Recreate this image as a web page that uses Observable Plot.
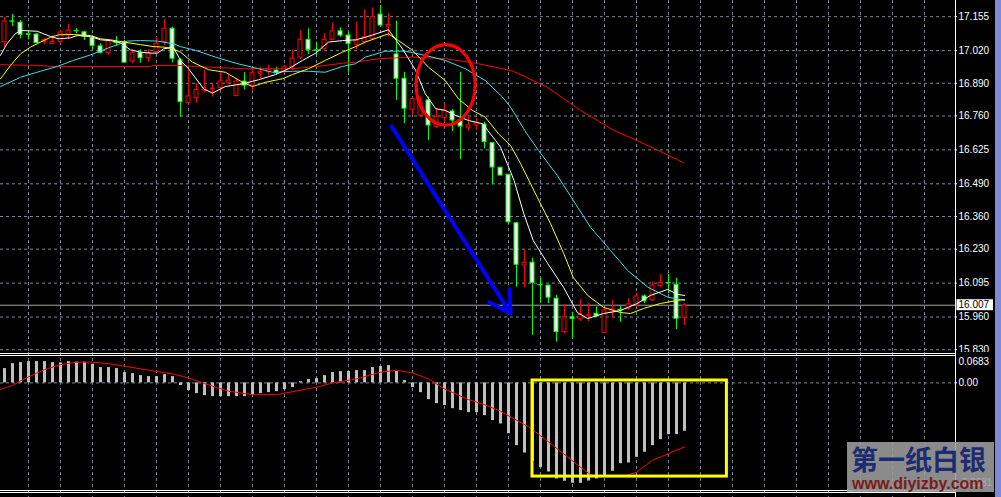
<!DOCTYPE html>
<html><head><meta charset="utf-8">
<script src="https://cdn.jsdelivr.net/npm/d3@7"></script>
<script src="https://cdn.jsdelivr.net/npm/@observablehq/plot@0.6"></script>
<style>
html,body{margin:0;padding:0;background:#000;}
#wrap{position:relative;width:1001px;height:497px;background:#000;overflow:hidden;}
#wrap svg{position:absolute;left:0;}
#strip{position:absolute;left:995px;top:0;width:6px;height:497px;background:#7d8ad8;}
#wm{position:absolute;left:847px;top:442px;width:147px;height:50px;background:rgba(158,158,158,0.88);}
#wm .cn{position:absolute;left:4px;top:3px;font-weight:bold;font-size:27px;font-family:"Noto Sans CJK SC",sans-serif;color:#1d2b70;line-height:28px;height:28px;white-space:nowrap;}
#wm .url{position:absolute;left:5px;top:34px;font-weight:bold;font-size:16px;font-family:"Liberation Sans",Arial,sans-serif;color:#7a1b1b;line-height:15px;height:15px;white-space:nowrap;}
</style></head>
<body><div id="wrap"><div id="strip"></div></div>
<script>
// ---------- data ----------
const open = [
17.054,17.136,17.131,17.085,17.084,17.056,17.046,17.054,17.084,17.098,
17.093,17.071,17.037,17.010,17.052,17.054,16.977,17.011,16.990,17.014,
17.054,17.107,16.981,16.811,16.831,16.861,16.867,16.871,16.890,16.839,
16.897,16.881,16.928,16.934,16.941,16.934,16.954,16.992,17.063,17.021,
17.027,17.063,17.097,17.080,17.044,17.054,17.067,17.163,17.116,17.005,
16.908,16.785,16.762,16.822,16.715,16.753,16.778,16.742,16.713,16.722,
16.726,16.652,16.554,16.526,16.333,16.165,16.176,16.087,16.085,16.033,
15.900,15.959,15.951,15.965,15.973,15.896,15.977,15.989,15.993,16.006,
16.042,16.026,16.083,16.095,16.088,15.957];
const high = [
17.153,17.164,17.140,17.097,17.089,17.070,17.080,17.100,17.124,17.107,
17.097,17.080,17.047,17.063,17.076,17.060,17.023,17.023,17.023,17.073,
17.143,17.113,16.989,16.941,16.888,16.941,16.888,16.934,16.921,16.908,
16.932,16.948,16.954,16.961,16.954,16.961,17.023,17.100,17.107,17.054,
17.087,17.129,17.111,17.093,17.133,17.182,17.190,17.200,17.167,17.137,
16.934,16.829,16.835,16.835,16.789,16.808,16.785,16.934,16.755,16.749,
16.735,16.654,16.555,16.527,16.336,16.225,16.194,16.118,16.087,16.046,
16.010,15.979,16.029,16.013,16.000,15.993,16.026,16.002,16.033,16.055,
16.048,16.099,16.129,16.129,16.114,16.013];
const low = [
17.033,17.116,17.067,17.063,17.047,17.043,17.045,17.047,17.063,17.087,
17.060,17.021,17.007,17.001,17.037,16.971,16.968,16.970,16.974,17.007,
17.040,16.972,16.754,16.808,16.811,16.851,16.835,16.859,16.888,16.838,
16.864,16.859,16.908,16.921,16.925,16.930,16.941,16.984,17.005,17.001,
17.023,17.060,17.073,16.934,17.023,17.047,17.063,17.113,17.073,16.822,
16.729,16.762,16.755,16.662,16.709,16.735,16.698,16.586,16.699,16.702,
16.629,16.486,16.521,16.331,16.079,16.076,15.887,16.015,16.013,15.860,
15.893,15.873,15.943,15.942,15.959,15.895,15.957,15.939,15.986,16.000,
16.013,16.023,16.076,16.052,15.910,15.926];
const close = [
17.136,17.135,17.083,17.083,17.050,17.062,17.055,17.092,17.100,17.097,
17.076,17.039,17.011,17.058,17.050,16.972,17.011,16.990,17.011,17.047,
17.107,16.988,16.815,16.838,16.864,16.871,16.869,16.897,16.901,16.897,
16.881,16.930,16.934,16.944,16.930,16.954,16.988,17.063,17.023,17.020,
17.063,17.097,17.080,17.047,17.058,17.073,17.153,17.120,17.122,16.908,
16.789,16.828,16.815,16.722,16.755,16.782,16.742,16.718,16.722,16.731,
16.656,16.555,16.523,16.337,16.168,16.176,16.096,16.086,16.037,15.900,
15.959,15.953,15.969,15.967,15.963,15.986,15.990,15.987,16.010,16.042,
16.023,16.085,16.096,16.094,15.953,16.006];

const maWhiteIdx = [-0.5,0.3,1.4,2.2,4.1,5.75,6.8,8.25,9.1,10.75,12,13.25,14.5,15.75,17,18.25,19.1,19.9,21.1,22,23,24.9,26,27.6,29.75,31.75,33.9,35.5,37.25,38.9,40.5,42.25,43.9,45.1,48,49.75,51.4,52.6,53.9,55.1,56.4,58,59.75,61.4,62,63.7,64.9,66.1,67.9,69.9,71.6,72.9,74.9,77,79.1,80.75,82.9,84.1,85];
const maWhiteVal = [17.001,17.047,17.089,17.100,17.097,17.076,17.067,17.071,17.080,17.076,17.063,17.060,17.051,17.023,17.014,17.010,17.010,17.027,17.034,16.981,16.948,16.868,16.851,16.877,16.888,16.904,16.925,16.948,16.981,17.010,17.054,17.060,17.063,17.073,17.103,17.027,16.941,16.848,16.789,16.782,16.762,16.742,16.729,16.662,16.636,16.503,16.372,16.264,16.173,16.077,15.978,15.954,15.974,15.986,16.014,16.046,16.070,16.050,16.046];

const maYellowIdx = [-0.5,0.75,2,3.25,4.5,5.75,6.8,8.6,10.75,12,13.25,14.9,17,18.6,19.9,21.1,22,23.5,25.5,27.6,29.75,31,32.6,34.75,36,38,40.1,42.25,43.9,45.1,48,49.25,51,53,55.1,56.75,58.5,60.1,61.75,63.25,64.5,66.6,68.25,69.9,71.1,72.9,74.9,77,78.25,79.9,82,84.1,85];
const maYellowVal = [16.908,16.961,17.007,17.034,17.054,17.073,17.083,17.084,17.080,17.067,17.063,17.054,17.044,17.036,17.034,17.027,17.014,16.974,16.944,16.934,16.894,16.877,16.894,16.908,16.925,16.948,16.981,17.014,17.036,17.054,17.087,17.060,17.021,16.954,16.901,16.828,16.782,16.755,16.689,16.643,16.571,16.436,16.332,16.213,16.117,16.046,15.998,15.978,15.974,15.994,16.014,16.026,16.030];

const maCyanIdx = [-0.5,2,4.5,6.6,8.6,10.75,13.25,15.4,17,19.1,21.1,22,23.9,26.4,28.9,31.75,33.5,36,38,40.1,42.25,43.9,45.1,47.6,50.1,52.6,55.1,57.6,60.1,62.25,63.25,65.3,66.75,69.1,71.1,73.25,75.75,77.9,80.4,82.9,85];
const maCyanVal = [16.877,16.914,16.938,16.957,16.981,17.003,17.034,17.058,17.060,17.058,17.047,17.036,17.021,16.994,16.970,16.948,16.934,16.938,16.938,16.934,16.957,16.968,16.994,17.018,17.018,17.001,16.981,16.948,16.901,16.835,16.795,16.689,16.623,16.523,16.424,16.317,16.225,16.145,16.079,16.039,16.026];

const maRedIdx = [-0.5,4.5,5.75,18.25,18.6,22,25.5,29.75,36,38,40.1,42.25,43.9,46.75,51,55.1,59.25,63.5,67.8,72,76.2,79.1,84.9];
const maRedVal = [16.964,16.961,16.957,16.957,16.961,16.961,16.954,16.948,16.948,16.954,16.961,16.970,16.974,16.988,16.994,16.988,16.968,16.939,16.875,16.782,16.702,16.662,16.574];

const macdHist = [
0.0357,0.0481,0.0506,0.0531,0.0531,0.0531,0.0506,0.0499,0.0531,0.0516,
0.0516,0.0466,0.0382,0.0382,0.0357,0.0257,0.0232,0.0182,0.0157,0.0157,
0.0207,0.0157,-0.0067,-0.0192,-0.0267,-0.0317,-0.0342,-0.0342,-0.0342,-0.0342,
-0.0342,-0.0292,-0.0267,-0.0242,-0.0217,-0.0167,-0.0117,0.0032,0.0082,0.0107,
0.0182,0.0257,0.0282,0.0282,0.0307,0.0307,0.0382,0.0407,0.0431,0.0282,
0.0057,-0.0117,-0.0242,-0.0417,-0.0516,-0.0566,-0.0641,-0.0691,-0.0741,-0.0741,
-0.0816,-0.0940,-0.1023,-0.1264,-0.1564,-0.1746,-0.1953,-0.2112,-0.2220,-0.2394,
-0.2452,-0.2501,-0.2501,-0.2444,-0.2394,-0.2327,-0.2202,-0.2013,-0.1995,-0.1853,
-0.1728,-0.1564,-0.1414,-0.1289,-0.1289,-0.1205];
const sigIdx = [-0.5,0,1,2,3,5,7,9,11,13,15,18,21,23,25,28,31,34,37,39,41,44,47,49,51,53,55,58,60,62,65.75,68.7,71.6,73.25,74.5,77.4,79,81,85];
const sigVal = [-0.0167,-0.0125,-0.0062,0.005,0.015,0.0332,0.0456,0.0516,0.0516,0.0481,0.0416,0.0317,0.0224,0.0125,-0.0017,-0.0207,-0.0292,-0.0292,-0.0182,-0.0107,0,0.01,0.0267,0.0317,0.0249,0.01,-0.015,-0.0416,-0.0541,-0.0706,-0.1122,-0.1579,-0.2038,-0.2287,-0.2327,-0.2327,-0.2227,-0.1928,-0.1596];

const priceTickLabels = ["17.155","17.020","16.890","16.760","16.625","16.490","16.360","16.230","16.095","15.960","15.830"];
const macdTickLabels = ["0.0683","0.00","-0.2681"];
const currentPrice = [16.007];

// annotations (in data units)
const arrowPts = {x1: 48.4, y1: 16.718, x2: 63.25, y2: 15.974};
const ellipseCenter = [55.2, 16.882];
const ellipseRadius = [3.69, 0.160];
const yellowBox = {x1: 66.0, x2: 90.3, y1: -0.2334, y2: 0.006};

// ---------- build ----------
const candles = open.map((o, i) => ({i, o, h: high[i], l: low[i], c: close[i], up: close[i] >= o}));
const upC = candles.filter(d => d.up), dnC = candles.filter(d => !d.up);
const toLine = (idx, val) => idx.map((x, k) => ({x, y: val[k]}));
const hist = macdHist.map((v, i) => ({i, v}));

const X_DOMAIN = [-0.5, 118.875];
const Y_DOMAIN = [15.830, 17.155], Y_RANGE = [349.2, 16.2];
const PX_X = (X_DOMAIN[1] - X_DOMAIN[0]) / 955;                       // one pixel in x units
const PX_Y = (Y_DOMAIN[1] - Y_DOMAIN[0]) / (Y_RANGE[0] - Y_RANGE[1]); // one pixel in price units
const gridIdx = d3.range(3, 119, 4);
const GRID = "#778899";
const FONT = '"Liberation Sans", Arial, sans-serif';
const RED = "#ff0000", LIME = "#00ff00";
const wrap = document.getElementById("wrap");

function ellipseMark(index, scales) {
  const sx = scales && scales.x, sy = scales && scales.y;
  if (typeof sx !== "function" || typeof sy !== "function") return null;
  const cx = sx(ellipseCenter[0]), cy = sy(ellipseCenter[1]);
  const rx = Math.abs(sx(ellipseCenter[0] + ellipseRadius[0]) - cx);
  const ry = Math.abs(sy(ellipseCenter[1] - ellipseRadius[1]) - cy);
  return d3.create("svg:ellipse").attr("cx", cx).attr("cy", cy).attr("rx", rx).attr("ry", ry)
    .attr("fill", "none").attr("stroke", RED).attr("stroke-width", 3.2).node();
}

function mainPlot(extra) {
  return Plot.plot({
    width: 1001, height: 352, marginTop: 0, marginBottom: 0, marginLeft: 0, marginRight: 46,
    style: {background: "#000", fontFamily: FONT, fontSize: "10px", overflow: "visible"},
    x: {domain: X_DOMAIN, axis: null},
    y: {domain: Y_DOMAIN, range: Y_RANGE, axis: null},
    marks: [
      Plot.ruleX(gridIdx, {stroke: GRID, strokeDasharray: "3,3"}),
      Plot.ruleY(priceTickLabels.map(Number), {stroke: GRID, strokeDasharray: "3,3"}),
      Plot.ruleY(currentPrice, {stroke: "#a8a8a8"}),
      Plot.ruleX(upC, {x: "i", y1: "l", y2: "h", stroke: RED}),
      Plot.ruleX(dnC, {x: "i", y1: "l", y2: "h", stroke: LIME}),
      Plot.rect(upC, {x1: d => d.i - 0.25, x2: d => d.i + 0.25, y1: "o", y2: "c", fill: "#000", stroke: RED}),
      Plot.rect(dnC, {x1: d => d.i - 0.25, x2: d => d.i + 0.25, y1: "o", y2: "c", fill: "#fff", stroke: LIME}),
      Plot.line(toLine(maRedIdx, maRedVal), {x: "x", y: "y", stroke: "#ff0000", strokeWidth: 1}),
      Plot.line(toLine(maCyanIdx, maCyanVal), {x: "x", y: "y", stroke: "#3fdcea", strokeWidth: 1}),
      Plot.line(toLine(maYellowIdx, maYellowVal), {x: "x", y: "y", stroke: "#ffff00", strokeWidth: 1}),
      Plot.line(toLine(maWhiteIdx, maWhiteVal), {x: "x", y: "y", stroke: "#ffffff", strokeWidth: 1}),
      Plot.arrow([arrowPts], {x1: "x1", y1: "y1", x2: "x2", y2: "y2", stroke: "#0000ff", strokeWidth: 4, headLength: 9}),
      Plot.ruleX([X_DOMAIN[1]], {stroke: "#fff"}),
      Plot.ruleY(priceTickLabels.map(Number), {x1: X_DOMAIN[1], x2: X_DOMAIN[1] + 2 * PX_X, stroke: "#fff"}),
      Plot.text(priceTickLabels, {y: d => +d, text: d => d, frameAnchor: "right", textAnchor: "start", dx: 3, fill: "#fff", fontSize: 10}),
      // current price tag: white box with black text, sized in pixels
      Plot.rect(currentPrice, {x1: X_DOMAIN[1] + 1.5 * PX_X, x2: X_DOMAIN[1] + 38 * PX_X,
        y1: d => d - 5.5 * PX_Y, y2: d => d + 5.5 * PX_Y, fill: "#fff"}),
      Plot.text(currentPrice, {y: d => d, text: d => d.toFixed(3), frameAnchor: "right", textAnchor: "start", dx: 3, fill: "#000", fontSize: 10}),
      ...extra
    ]
  });
}
let main;
try { main = mainPlot([ellipseMark]); } catch (e) { main = mainPlot([]); }
main.style.top = "0px";
wrap.appendChild(main);

const macd = Plot.plot({
  width: 1001, height: 145, marginTop: 0, marginBottom: 0, marginLeft: 0, marginRight: 46,
  style: {background: "#000", fontFamily: FONT, fontSize: "10px", overflow: "visible"},
  x: {domain: X_DOMAIN, axis: null},
  y: {domain: [-0.2681, 0.0683], range: [138, 3], axis: null},
  marks: [
    Plot.ruleX(gridIdx, {stroke: GRID, strokeDasharray: "3,3"}),
    Plot.ruleY([0], {stroke: GRID, strokeDasharray: "3,3"}),
    Plot.ruleX(hist, {x: "i", y1: 0, y2: "v", stroke: "#c0c0c0", strokeWidth: 3}),
    Plot.line(toLine(sigIdx, sigVal), {x: "x", y: "y", stroke: "#ff0000", strokeWidth: 1}),
    Plot.rect([yellowBox], {x1: "x1", x2: "x2", y1: "y1", y2: "y2", fill: "none", stroke: "#ffff00", strokeWidth: 3}),
    Plot.ruleY([0.0683], {stroke: "#fff", dy: -2}),
    Plot.ruleY([0.0683], {stroke: "#fff"}),
    Plot.ruleY([-0.2681], {stroke: "#fff"}),
    Plot.ruleY([-0.2681], {stroke: "#fff", dy: 2}),
    Plot.ruleX([X_DOMAIN[1]], {stroke: "#fff"}),
    Plot.ruleY([0], {x1: X_DOMAIN[1], x2: X_DOMAIN[1] + 2 * PX_X, stroke: "#fff"}),
    Plot.text([macdTickLabels[0]], {y: 0.0683, text: d => d, frameAnchor: "right", textAnchor: "start", lineAnchor: "top", dx: 3, dy: 2, fill: "#fff", fontSize: 10}),
    Plot.text([macdTickLabels[1]], {y: 0, text: d => d, frameAnchor: "right", textAnchor: "start", dx: 3, fill: "#fff", fontSize: 10}),
    Plot.text([macdTickLabels[2]], {y: -0.2681, text: d => d, frameAnchor: "right", textAnchor: "start", lineAnchor: "bottom", dx: 3, dy: -5, fill: "#fff", fontSize: 10})
  ]
});
macd.style.top = "352px";
wrap.appendChild(macd);

// watermark
const wm = document.createElement("div");
wm.id = "wm";
wm.innerHTML = '<div class="cn">第一纸白银</div><div class="url">www.diyizby.com</div>';
wrap.appendChild(wm);
wrap.appendChild(document.getElementById("strip"));
</script></body></html>
